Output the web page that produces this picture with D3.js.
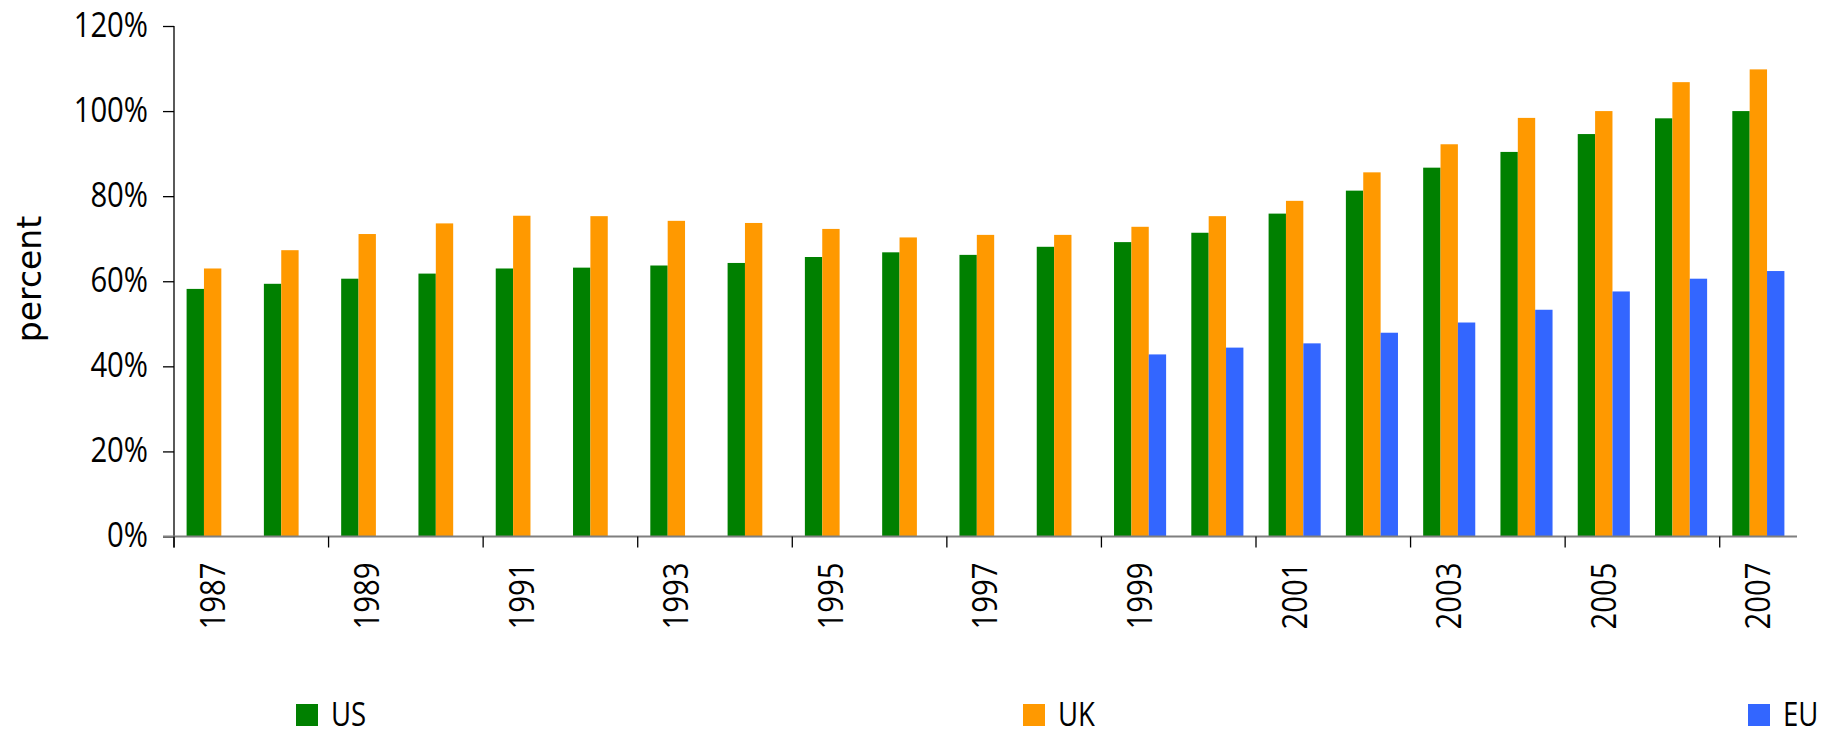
<!DOCTYPE html>
<html>
<head>
<meta charset="utf-8">
<script src="https://cdn.jsdelivr.net/npm/d3@7"></script>
<style>
  html, body { margin: 0; padding: 0; background: #fff; }
  svg { display: block; }
  .lbl { font-family: "Open Sans", sans-serif; fill: #000; }
</style>
</head>
<body>
<svg id="chart" width="1841" height="736"></svg>
<script>
const years = ["1987","1988","1989","1990","1991","1992","1993","1994","1995","1996","1997","1998","1999","2000","2001","2002","2003","2004","2005","2006","2007"];
const seriesNames = ["US", "UK", "EU"];
const usValues = [58.2,59.4,60.6,61.8,63.0,63.2,63.7,64.3,65.7,66.8,66.2,68.1,69.2,71.4,75.9,81.3,86.7,90.4,94.6,98.3,100.0];
const ukValues = [63.0,67.3,71.1,73.6,75.4,75.3,74.2,73.7,72.3,70.3,70.9,70.9,72.8,75.3,78.9,85.6,92.2,98.4,100.0,106.8,109.8];
const euValues = [null,null,null,null,null,null,null,null,null,null,null,null,42.8,44.4,45.4,47.9,50.3,53.3,57.6,60.6,62.4];
const yTicks = [0, 20, 40, 60, 80, 100, 120];
const xLabelYears = ["1987","1989","1991","1993","1995","1997","1999","2001","2003","2005","2007"];
const colors = ["#008000", "#FF9900", "#3366FF"];
const yTitle = "percent";

(function () {
const svg = d3.select("#chart");
const pLeft = 174, pRight = 1797, pTop = 26, pBottom = 536.5;
const condense = 0.86;

const x0 = d3.scaleBand().domain(years).range([pLeft, pRight]).padding(0);
const step = x0.step();
const x1 = d3.scaleBand().domain(seriesNames).range([step * 0.163, step * 0.837]).padding(0);
const y = d3.scaleLinear().domain([0, 120]).range([pBottom, pTop]);
const color = d3.scaleOrdinal().domain(seriesNames).range(colors);

const table = years.map((yr, i) => ({ year: yr, values: [usValues[i], ukValues[i], euValues[i]] }));

// bars
const groups = svg.append("g").selectAll("g").data(table).join("g")
  .attr("transform", d => `translate(${x0(d.year)},0)`);
groups.selectAll("rect")
  .data(d => seriesNames.map((s, j) => ({ s, v: d.values[j] })).filter(e => e.v !== null))
  .join("rect")
  .attr("x", e => x1(e.s))
  .attr("width", x1.bandwidth())
  .attr("y", e => y(e.v))
  .attr("height", e => y(0) - y(e.v))
  .attr("fill", e => color(e.s));

// y axis
const yAxis = svg.append("g").attr("transform", `translate(${pLeft},0)`)
  .call(d3.axisLeft(y).tickValues(yTicks).tickFormat(d => d + "%").tickSize(11).tickPadding(15));
yAxis.select(".domain").remove();
yAxis.selectAll(".tick line").attr("stroke", "#000").attr("stroke-width", 1.3);
yAxis.selectAll(".tick text").attr("class", "lbl").attr("font-size", 34).attr("dy", "0.3em");
svg.append("line").attr("x1", pLeft).attr("x2", pLeft).attr("y1", y(120)).attr("y2", pBottom + 11)
  .attr("stroke", "#000").attr("stroke-width", 1.3);

// x axis line
svg.append("line").attr("x1", pLeft - 11).attr("x2", pRight).attr("y1", pBottom).attr("y2", pBottom)
  .attr("stroke", "#7f7f7f").attr("stroke-width", 2.2);

// x ticks at every second band boundary
const tickYears = years.filter((d, i) => i % 2 === 0);
svg.append("g").selectAll("line").data(tickYears).join("line")
  .attr("x1", d => x0(d)).attr("x2", d => x0(d))
  .attr("y1", pBottom).attr("y2", pBottom + 11)
  .attr("stroke", "#000").attr("stroke-width", 1.3);

// x labels via axis
const xAxis = svg.append("g").attr("transform", `translate(0,${pBottom})`)
  .call(d3.axisBottom(x0).tickValues(xLabelYears).tickSize(0).tickPadding(0));
xAxis.select(".domain").remove();
xAxis.selectAll(".tick text")
  .attr("class", "lbl").attr("font-size", 34)
  .attr("text-anchor", "end")
  .attr("transform", "translate(0,26) rotate(-90)")
  .attr("x", 0).attr("y", 0).attr("dy", "0.35em");

// y title
svg.append("text")
  .attr("transform", `translate(29,279) rotate(-90)`)
  .attr("text-anchor", "middle").attr("dy", "0.35em")
  .attr("font-family", "DejaVu Sans, sans-serif").attr("font-size", 33)
  .text(yTitle);

// legend
const legendX = [296, 1023, 1748];
const leg = svg.append("g").selectAll("g").data(seriesNames).join("g")
  .attr("transform", (d, i) => `translate(${legendX[i]},704)`);
leg.append("rect").attr("width", 22).attr("height", 22).attr("fill", d => color(d));
leg.append("text").attr("class", "lbl").attr("x", 35).attr("y", 22)
  .attr("font-size", 32).text(d => d);

// condense label glyphs to match the narrow face of the original
svg.selectAll("text.lbl").each(function () {
  const w = this.getComputedTextLength();
  d3.select(this).attr("textLength", w * condense).attr("lengthAdjust", "spacingAndGlyphs");
});
})();
</script>
</body>
</html>
